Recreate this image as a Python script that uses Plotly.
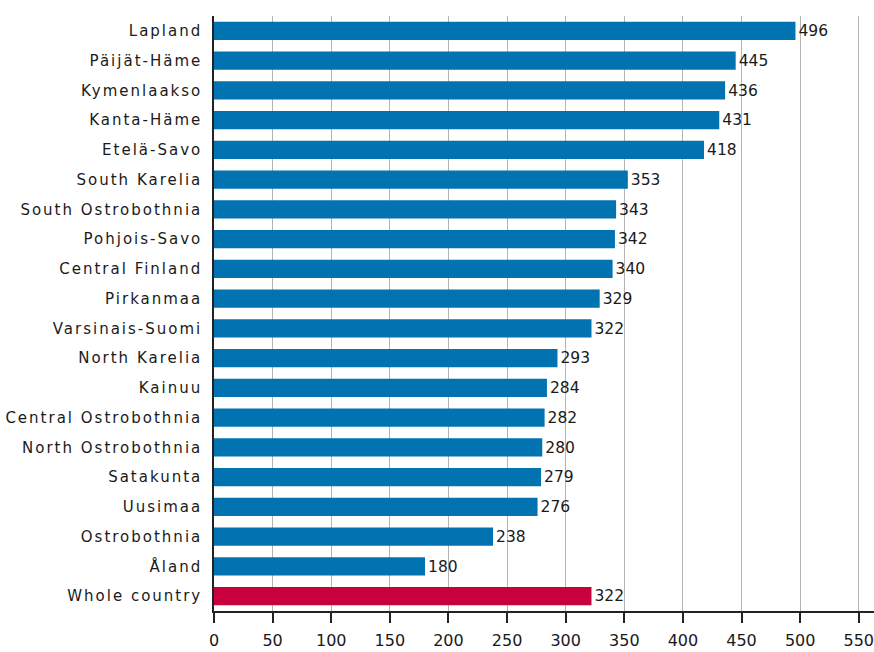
import plotly.graph_objects as go

regions = ["Lapland", "Päijät-Häme", "Kymenlaakso", "Kanta-Häme", "Etelä-Savo",
           "South Karelia", "South Ostrobothnia", "Pohjois-Savo", "Central Finland",
           "Pirkanmaa", "Varsinais-Suomi", "North Karelia", "Kainuu",
           "Central Ostrobothnia", "North Ostrobothnia", "Satakunta", "Uusimaa",
           "Ostrobothnia", "Åland", "Whole country"]
values = [496, 445, 436, 431, 418, 353, 343, 342, 340, 329, 322, 293, 284,
          282, 280, 279, 276, 238, 180, 322]
x_ticks = [0, 50, 100, 150, 200, 250, 300, 350, 400, 450, 500, 550]

BLUE = "#0073B0"
RED = "#C8003C"
colors = [RED if r == "Whole country" else BLUE for r in regions]

FONT = "DejaVu Sans"
TXT = "#1a1a1a"

fig = go.Figure(go.Bar(
    x=values, y=regions, orientation="h",
    marker=dict(color=colors, line=dict(width=0)),
    text=[str(v) for v in values], textposition="outside",
    textfont=dict(family=FONT, size=16, color=TXT),
    cliponaxis=False,
))

fig.update_layout(
    width=874, height=652,
    margin=dict(l=214, r=0, t=16, b=41, autoexpand=False),
    paper_bgcolor="white", plot_bgcolor="white",
    bargap=0.38, showlegend=False,
    font=dict(family=FONT, size=16, color=TXT),
)
fig.update_xaxes(
    range=[0, 563], tickvals=x_ticks, ticktext=[str(t) for t in x_ticks],
    showgrid=True, gridcolor="#B4B4B4", gridwidth=1,
    showline=True, linecolor="#222222", linewidth=1.5,
    ticks="outside", ticklen=10, tickcolor="#222222", tickwidth=1.5,
    zeroline=False, automargin=False, ticklabeloverflow="allow",
    ticklabelstandoff=4,
    tickfont=dict(family=FONT, size=16, color=TXT),
)
fig.update_yaxes(
    autorange="reversed", categoryorder="array", categoryarray=regions,
    showline=True, linecolor="#222222", linewidth=1.5,
    showgrid=False, ticks="", ticklabelstandoff=7, automargin=False,
    tickfont=dict(family=FONT, size=15, color=TXT),
)

post = """
document.body.style.margin = '0';
document.body.style.padding = '0';
var gd = document.getElementById('{plot_id}');
function spacing(){
  gd.querySelectorAll('.ytick text').forEach(function(t){
    t.style.letterSpacing = '2px';
  });
}
spacing();
if (gd.on) { gd.on('plotly_afterplot', spacing); }
"""

fig.write_html("out.html", post_script=post, config={"displayModeBar": False})
